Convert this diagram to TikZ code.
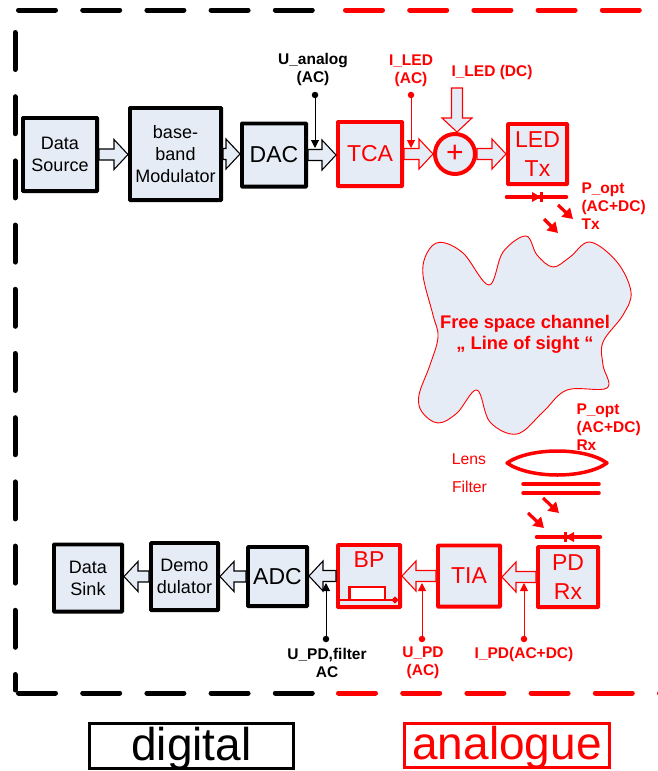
\documentclass[tikz,border=0pt]{standalone}
\usepackage{fontspec}
\setmainfont{Liberation Sans}
\usetikzlibrary{arrows.meta,calc}
\definecolor{boxfill}{HTML}{E6ECF6}
\tikzset{
    block/.style={draw, line width=3.9pt, fill=boxfill, rounded corners=0.6pt, inner sep=0pt, align=center}, % the boxes
    smalltext/.style={font=\fontsize{18}{22}\selectfont},
    bigtext/.style={font=\fontsize{23}{29}\selectfont},
    sigtext/.style={font=\bfseries\fontsize{15.5}{18}\selectfont, align=center}, % signal names
    thintext/.style={text=red, font=\fontsize{15.7}{18}\selectfont, inner sep=0pt},
    framedash/.style={line width=5pt, line cap=round, dash pattern=on 37pt off 27.2pt}, % the long dashes
    tagbox/.style={draw, line width=3pt, inner sep=0pt, font=\fontsize{46}{50}\selectfont},
    blockarrow/.style={draw=#1, line width=1.1pt, fill=boxfill, to path={
        let \p1=($(\tikztotarget)!14pt!(\tikztostart)$) in
        ($(\tikztostart)!5.5pt!90:(\tikztotarget)$) -- ($(\p1)!5.5pt!-90:(\tikztostart)$)
        -- ($(\p1)!15pt!-90:(\tikztostart)$) -- (\tikztotarget) -- ($(\p1)!15pt!90:(\tikztostart)$)
        -- ($(\p1)!5.5pt!90:(\tikztostart)$) -- ($(\tikztostart)!5.5pt!-90:(\tikztotarget)$) -- cycle}},
    lightray/.style={red, line width=3.2pt, -{Triangle[length=10pt,width=12pt]}} % the small red arrows
}

\begin{document}
\begin{tikzpicture}[x=1pt, y=-1pt]
    \useasboundingbox (0,0) rectangle (658,771);

    % frame
    \draw[framedash, black] (18.5,10) -- (312.5,10);
    \draw[framedash, red] (345.5,10) -- (641.8,10);
    \draw[framedash, black] (15,32.5) -- (15,690);
    \draw[framedash, black] (18.5,693) -- (312.5,693);
    \draw[framedash, red] (338.5,693) -- (660,693);

    % black boxes
    \foreach \boxname / \cx / \cy / \bw / \bh / \boxfont / \labelText in {
        source/60/154.5/74.1/73.1/smalltext/{Data\\Source},
        modulator/175.5/154/91.1/92.1/smalltext/{base-\\band\\Modulator},
        dac/274/155/64.1/63.1/bigtext/{DAC},
        adc/277.5/576.5/59.1/59.1/bigtext/{ADC},
        demod/184.5/576.5/67.1/67.1/smalltext/{Demo\\dulator},
        sink/88/578/68.1/67.1/smalltext/{Data\\Sink}%
    } {
        \node[block, \boxfont, minimum width=\bw pt, minimum height=\bh pt] (\boxname) at (\cx,\cy) {\labelText};
    }

    % red boxes
    \foreach \boxname / \cx / \cy / \bw / \bh / \labelText in {
        tca/370/154/64.1/64.1/{TCA},
        ledtx/537.5/154/59.1/60.1/{LED\\Tx},
        pdrx/568/577/60.1/60.1/{PD\\Rx},
        tia/469/576/62.1/61.1/{TIA},
        bp/369/576/62.1/62.1/{}%
    } {
        \node[block, bigtext, draw=red, text=red, minimum width=\bw pt, minimum height=\bh pt] (\boxname) at (\cx,\cy) {\labelText};
    }
    \node[bigtext, text=red, inner sep=0pt] (bplabel) at (369,560) {BP};
    \node[draw=red, line width=4pt, circle, fill=boxfill, text=red, minimum size=40pt, inner sep=0pt, font=\fontsize{30}{30}\selectfont] (plus) at (455,154) {+};

    % block arrows
    \draw[blockarrow=black] (source.east) to (source.east -| modulator.west);
    \draw[blockarrow=black] (modulator.east) to (modulator.east -| dac.west);
    \draw[blockarrow=black] (dac.east) to (dac.east -| tca.west);
    \draw[blockarrow=red] (tca.east) to (plus.west);
    \draw[blockarrow=red] (plus.east) to (plus.east -| ledtx.west);
    \coordinate (dctail) at (457,88);
    \draw[blockarrow=red] (dctail) to (dctail |- plus.north);
    \draw[blockarrow=red] (pdrx.west) to (pdrx.west -| tia.east);
    \draw[blockarrow=red] (tia.west) to (tia.west -| bp.east);
    \draw[blockarrow=black] (bp.west) to (bp.west -| adc.east);
    \draw[blockarrow=black] (adc.west) to (adc.west -| demod.east);
    \draw[blockarrow=black] (demod.west) to (demod.west -| sink.east);

    % signal probes
    \foreach \probe / \px / \ya / \yb / \col in {
        uanalog/315/95/148/black,
        iled/411/95/148/red,
        ipd/524/639/583/red,
        upd/422/639/583/red,
        updfilter/326/639/583/black%
    } {
        \node[circle, fill=\col, inner sep=0pt, minimum size=6.5pt] (\probe dot) at (\px,\ya) {};
        \coordinate (\probe tip) at (\px,\yb);
        \draw[\col, line width=1pt, -{Triangle[length=8pt,width=8pt]}] (\probe dot) -- (\probe tip);
    }

    % signal names
    \node[sigtext] (uanalogtext) at (313,69) {U\_analog\\(AC)};
    \node[sigtext, text=red] (iledtext) at (411,70.5) {I\_LED\\(AC)};
    \node[sigtext, text=red] (iledcd) at (492,72) {I\_LED (DC)};
    \node[sigtext, text=red, align=left, anchor=west] (popttx) at (578,206) {P\_opt\\(AC+DC)\\Tx};
    \node[sigtext, text=red, align=left, anchor=west] (poptrx) at (573,427) {P\_opt\\(AC+DC)\\Rx};
    \node[sigtext, text=red] (ipdtext) at (524,654) {I\_PD(AC+DC)};
    \node[sigtext, text=red] (updtext) at (423,663) {U\_PD\\(AC)};
    \node[sigtext] (updfiltertext) at (327,663) {U\_PD,filter\\AC};

    % LED and photodiode
    \draw[red, line width=3.5pt, line cap=round] (506.5,197) -- (566.5,197);
    \fill[red] (532,192) -- (532,202) -- (541,197) -- cycle;
    \draw[red, line width=3pt] (541,192) -- (541,202);
    \draw[red, line width=3.5pt, line cap=round] (536.5,537) -- (600.5,537);
    \fill[red] (574,532) -- (574,542) -- (565,537) -- cycle;
    \draw[red, line width=3pt] (565,532) -- (565,542);

    % light
    \foreach \xa / \ya / \xb / \yb in {
        558/205/573/219,
        544/219/558/233,
        543/498/559/513,
        528/513/544/528%
    } {
        \draw[lightray] (\xa,\ya) -- (\xb,\yb);
    }

    % channel
    \draw[red, line width=0.9pt, fill=boxfill] plot[smooth cycle, tension=0.6] coordinates {
        (440,242.3) (463,253) (489,285) (503,252) (526,236) (537,255) (553,267) (570,257)
        (590,242) (617,262) (631,292) (623,315) (603,342) (603,365) (607,388) (567,390)
        (543,412) (517,434) (490,422) (477,390) (457,413) (438,423) (422,412) (419,395)
        (430,365) (438,337) (433,315) (423,275) (427,253)
    };
    \node[text=red, font=\bfseries\fontsize{18.3}{21.5}\selectfont, align=center] (channel) at (525,334.5) {Free space channel\\„ Line of sight “};

    % lens and filter
    \draw[red, line width=3.5pt, line join=round] (507,463) .. controls (530,447) and (585,447) .. (607,463)
        .. controls (585,479) and (530,479) .. cycle;
    \draw[red, line width=3.5pt, line cap=round] (523,484) -- (599,484);
    \draw[red, line width=3.5pt, line cap=round] (523,493) -- (599,493);
    \node[thintext] (lenstext) at (469,459) {Lens};
    \node[thintext] (filtertext) at (469.5,487) {Filter};

    % band pass symbol
    \draw[red, line width=2.5pt, fill=white] (349.5,600) -- (349.5,587) -- (385,587) -- (385,600);
    \draw[red, line width=2.5pt, -{Circle[length=6pt,width=6pt]}] (339,600) -- (398,600);

    % legend
    \node[tagbox, text height=36pt, text depth=8pt, minimum width=204pt, minimum height=45pt] (digital) at (191.5,746) {digital};
    \node[tagbox, red, text height=35pt, text depth=8pt, minimum width=205pt, minimum height=44pt] (analogue) at (507,745.5) {analogue};
\end{tikzpicture}
\end{document}
